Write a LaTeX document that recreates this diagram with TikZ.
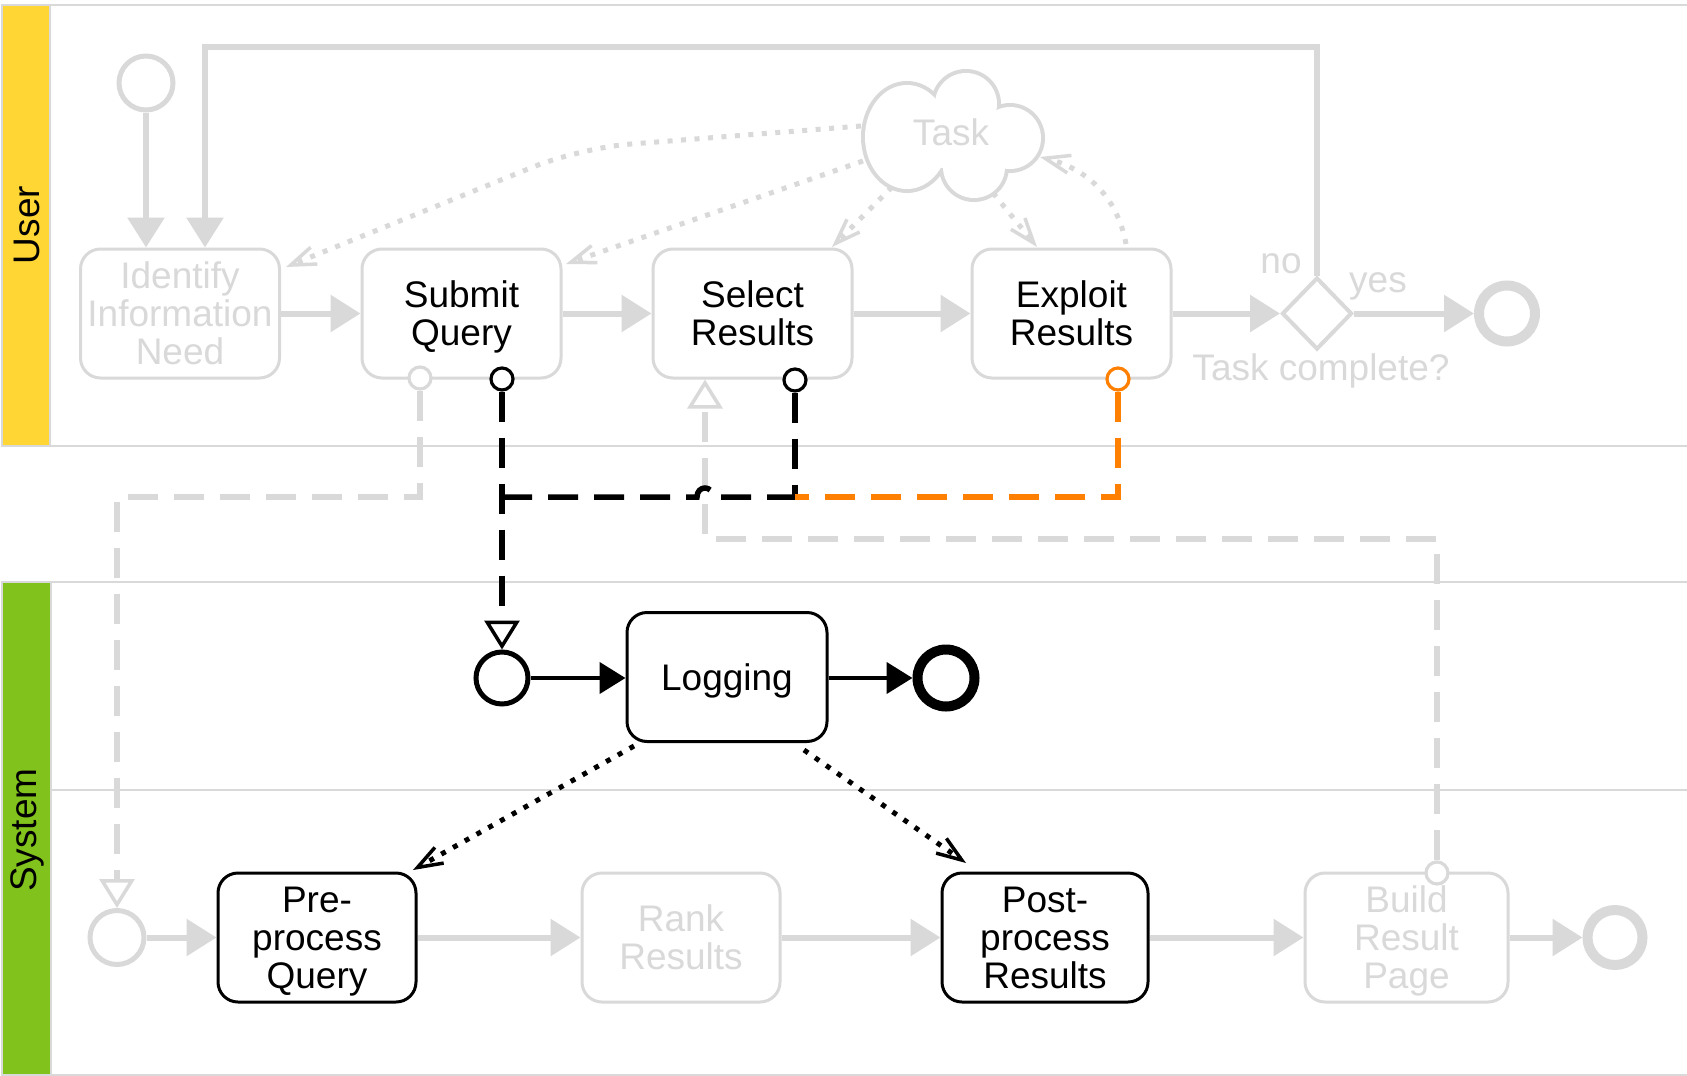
\documentclass[tikz,border=0pt]{standalone}
\usepackage{fontspec}
\setmainfont{Liberation Sans}
\usetikzlibrary{arrows.meta,shapes.geometric,calc}
\definecolor{lg}{RGB}{217,217,217}
\definecolor{laneyellow}{RGB}{255,214,51}
\definecolor{lanegreen}{RGB}{130,194,28}
\definecolor{orangeflow}{RGB}{255,128,0}
\begin{document}
\begin{tikzpicture}[x=1pt,y=-1pt,
  every node/.style={font=\fontsize{37}{38}\selectfont},
  task/.style={draw, rounded corners=20pt, line width=3pt, fill=white, minimum height=129pt, align=center, inner sep=0pt, text depth=-4pt},
  graytask/.style={task, draw=lg, text=lg},
  blacktask/.style={task, draw=black, text=black},
  seqgray/.style={draw=lg, line width=6pt, -{Triangle[length=30pt,width=36pt]}},
  seqblack/.style={draw=black, line width=4.5pt, -{Triangle[length=26pt,width=31pt]}},
  msg/.style={line width=5.5pt, dash pattern=on 30pt off 16pt},
  msgarrow/.style={-{Triangle[length=29pt,width=35pt,line width=3.5pt,fill=white]}},
  assoc/.style={line width=5pt, dash pattern=on 5pt off 8.5pt, -{Straight Barb[length=25pt,width=18pt,line width=3.5pt]}},
  port/.style={circle, draw, line width=3.2pt, fill=white, minimum size=22pt, inner sep=0pt},
  evstart/.style={circle, draw, line width=5pt, fill=white, inner sep=0pt},
  evend/.style={circle, draw, line width=10pt, fill=white, inner sep=0pt},
  lanelabel/.style={rotate=90, text=black, inner sep=0pt},
]
\useasboundingbox (0,0) rectangle (1687,1076);
\fill[white] (0,0) rectangle (1687,1076);

% ---------- lanes ----------
\fill[laneyellow] (2,5) rectangle (50,446);
\draw[lg, line width=2.5pt] (1690,5) -- (2,5) -- (2,446) -- (1690,446);
\draw[lg, line width=2.5pt] (50,5) -- (50,446);
\node[lanelabel] (userlabel) at (27,225) {User};

\fill[lanegreen] (2,582) rectangle (51,1075);
\draw[lg, line width=2.5pt] (1690,582) -- (2,582) -- (2,1075) -- (1690,1075);
\draw[lg, line width=2.5pt] (51,582) -- (51,1075);
\draw[lg, line width=2.5pt] (51,790) -- (1690,790);
\node[lanelabel] (syslabel) at (27,830) {System};

% ---------- task cloud ----------
\draw[lg, line width=8pt] (907,137) ellipse [x radius=42pt, y radius=52pt];
\draw[lg, line width=8pt] (966,104) circle [radius=31pt];
\draw[lg, line width=8pt] (1010,138) circle [radius=31pt];
\draw[lg, line width=8pt] (974,167) circle [radius=31pt];
\fill[white] (907,137) ellipse [x radius=42pt, y radius=52pt];
\fill[white] (966,104) circle [radius=31pt];
\fill[white] (1010,138) circle [radius=31pt];
\fill[white] (974,167) circle [radius=31pt];
\fill[white] (958,138) ellipse [x radius=45pt, y radius=32pt];
\node[text=lg, inner sep=0pt] (taskcloud) at (951,132) {Task};

% ---------- user lane nodes ----------
\node[evstart, draw=lg, minimum size=54pt] (ustart) at (146,83) {};
\node[graytask, minimum width=199pt] (identify) at (180,313.5) {Identify\\Information\\Need};
\node[blacktask, draw=lg, minimum width=199pt] (submit) at (461.5,313.5) {Submit\\Query};
\node[blacktask, draw=lg, minimum width=199pt] (select) at (752.5,313.5) {Select\\Results};
\node[blacktask, draw=lg, minimum width=199pt] (exploit) at (1071.5,313.5) {Exploit\\Results};
\node[diamond, draw=lg, line width=4pt, fill=white, minimum width=70pt, minimum height=72pt, inner sep=0pt] (dia) at (1317,313.5) {};
\node[evend, draw=lg, minimum size=56pt] (uend) at (1507,313.5) {};
\node[text=lg, inner sep=0pt] (nolab) at (1281,264) {no};
\node[text=lg, inner sep=0pt] (yeslab) at (1378,286.5) {yes};
\node[text=lg, inner sep=0pt] (tclab) at (1321,370.5) {Task complete?};

% ---------- association (dotted) user lane ----------
\coordinate (a1s) at (861,126);
\coordinate (a1m) at (580,148);
\coordinate (a1e) at (286,267);
\coordinate (a2s) at (863,161);
\coordinate (a2e) at (566,264);
\coordinate (a3s) at (892,187);
\coordinate (a3e) at (832,247);
\coordinate (a4s) at (993,193);
\coordinate (a4e) at (1037,247);
\coordinate (a5s) at (1126,244);
\coordinate (a5e) at (1040,157);
\draw[assoc, lg, rounded corners=50pt] (a1s) -- (a1m) -- (a1e);
\draw[assoc, lg] (a2s) -- (a2e);
\draw[assoc, lg] (a3s) -- (a3e);
\draw[assoc, lg] (a4s) -- (a4e);
\draw[assoc, lg] (a5s) .. controls (1117,195) and (1085,168) .. (a5e);

% ---------- user lane sequence flows ----------
\draw[seqgray] (ustart.south) -- (ustart.south |- identify.north);
\draw[seqgray] (dia.north) |- (205,47) -- (205,0 |- identify.north);
\draw[seqgray] (identify.east) -- (submit.west);
\draw[seqgray] (submit.east) -- (select.west);
\draw[seqgray] (select.east) -- (exploit.west);
\draw[seqgray] (exploit.east) -- (dia.west);
\draw[seqgray] (dia.east) -- (uend.west);

% ---------- system lane nodes ----------
\node[evstart, draw=black, minimum size=52pt] (lstart) at (502,678) {};
\node[blacktask, minimum width=200pt] (logging) at (727,677) {Logging};
\node[evend, draw=black, minimum size=57pt] (lend) at (946,678) {};

\node[evstart, draw=lg, minimum size=54pt] (sstart) at (117,937.5) {};
\node[blacktask, minimum width=198pt] (pre) at (317,937.5) {Pre-\\process\\Query};
\node[graytask, minimum width=198pt] (rank) at (681,937.5) {Rank\\Results};
\node[blacktask, minimum width=206pt] (post) at (1045,937.5) {Post-\\process\\Results};
\node[graytask, minimum width=203pt] (build) at (1406.5,937.5) {Build\\Result\\Page};
\node[evend, draw=lg, minimum size=55pt] (send) at (1615,937.5) {};

\draw[seqblack] (lstart.east) -- (lstart.east -| logging.west);
\draw[seqblack] (lend.west -| logging.east) -- (lend.west);
\draw[seqgray] (sstart.east) -- (pre.west);
\draw[seqgray] (pre.east) -- (rank.west);
\draw[seqgray] (rank.east) -- (post.west);
\draw[seqgray] (post.east) -- (build.west);
\draw[seqgray] (build.east) -- (send.west);

% ---------- black associations ----------
\coordinate (b1s) at (634,746);
\coordinate (b1e) at (413,870);
\coordinate (b2s) at (804,750);
\coordinate (b2e) at (966,863);
\draw[assoc, black] (b1s) -- (b1e);
\draw[assoc, black] (b2s) -- (b2e);

% ---------- ports ----------
\node[port, draw=lg] (sqg) at (420,378) {};
\node[port, draw=black] (sqb) at (502,379) {};
\node[port, draw=black] (srb) at (795,380) {};
\node[port, draw=orangeflow] (erb) at (1118,379) {};
\node[port, draw=lg] (bpg) at (1437,873) {};

% ---------- message flows ----------
\coordinate (selin) at (705,379.5);
\draw[msg, lg, msgarrow] (sqg.south) |- (117,497) -- (sstart.north);
\draw[msg, lg, msgarrow] (bpg.north) |- (705,539) -- (selin);
\draw[msg, black, msgarrow] (sqb.south) -- (lstart.north);
\draw[msg, black] (srb.south) -- (795,497);
\draw[msg, black] (502,497) -- (697,497) .. controls (697,485) and (713,485) .. (713,497) -- (795,497);
\draw[msg, orangeflow] (erb.south) |- (795,497);
\end{tikzpicture}
\end{document}
